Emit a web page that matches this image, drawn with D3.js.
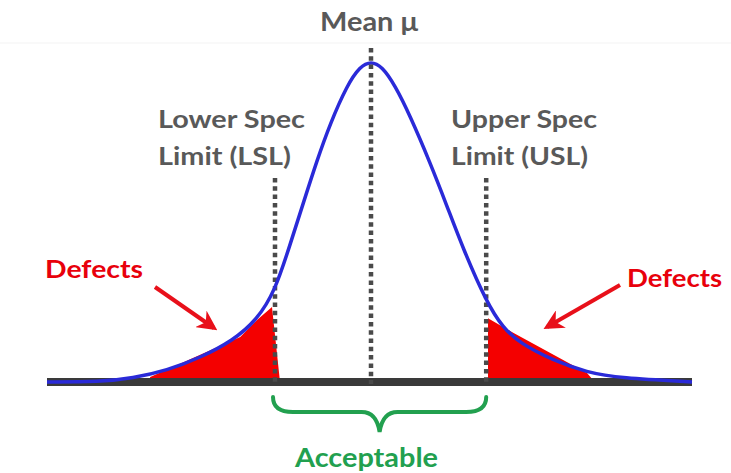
<!DOCTYPE html>
<html><head><meta charset="utf-8">
<script src="https://cdn.jsdelivr.net/npm/d3@7"></script>
<style>html,body{margin:0;padding:0;background:#fff;overflow:hidden}</style>
</head><body>
<svg id="c" width="731" height="473"></svg>
<script>
// Process values in sigma units (mean = 0), relative density (peak = 1)
const meanValue = 0;
const lslValue = -1.6;
const uslValue = 1.92;
const curveX = [-5.4,-4.52,-3.97,-3.4,-2.85,-2.3,-1.9,-1.6,-1.35,-1.13,-0.9,-0.68,-0.4,-0.18,0,0.18,0.4,0.65,0.98,1.27,1.53,1.93,2.2,2.48,3.03,3.6,4.15,5.35];
const curveY = [0,0,0.012,0.036,0.076,0.13,0.195,0.285,0.43,0.56,0.695,0.81,0.93,0.99,1.005,0.99,0.93,0.835,0.69,0.55,0.42,0.248,0.17,0.122,0.068,0.03,0.012,0];
const leftDefectX = [-3.7,-3.68,-2.18,-1.9,-1.65,-1.52,-1.52];
const leftDefectY = [0,0.016,0.141,0.194,0.235,0.006,0];
const rightDefectX = [1.95,1.95,2.37,3.6,3.73];
const rightDefectY = [0,0.2,0.154,0.028,0];
const labels = {mean:"Mean μ", lsl:["Lower Spec","Limit (LSL)"], usl:["Upper Spec","Limit (USL)"], defects:"Defects", ok:"Acceptable"};

const svg = d3.select("#c");
const x = d3.scaleLinear().domain([-5.4,5.35]).range([47,692]);
const y = d3.scaleLinear().domain([0,1]).range([382,63]);
const curve = curveX.map((v,i)=>[v,curveY[i]]);
const ld = leftDefectX.map((v,i)=>[v,leftDefectY[i]]);
const rd = rightDefectX.map((v,i)=>[v,rightDefectY[i]]);
const line = d3.line().x(d=>x(d[0])).y(d=>y(d[1]));

// faint rule near top
svg.append("line").attr("x1",0).attr("x2",731).attr("y1",43).attr("y2",43).attr("stroke","#f3f3f3").attr("stroke-width",1);

// defect areas
svg.append("path").attr("d",line(ld)+"Z").attr("fill","#f40000");
svg.append("path").attr("d",line(rd)+"Z").attr("fill","#f40000");

// baseline bar
svg.append("line").attr("x1",x(-5.4)).attr("x2",x(5.35)).attr("y1",y(0)).attr("y2",y(0))
  .attr("stroke","#3a3a3a").attr("stroke-width",8);

// spec lines
const dotted = (v,top)=>svg.append("line").attr("x1",x(v)).attr("x2",x(v)).attr("y1",top).attr("y2",y(0)+2)
  .attr("stroke","#4a4a4a").attr("stroke-width",4.5).attr("stroke-dasharray","4.5,3.8");
dotted(lslValue,178);
dotted(uslValue,178);

// curve
svg.append("path").attr("d",d3.line().x(d=>x(d[0])).y(d=>y(d[1])).curve(d3.curveBasis)(curve))
  .attr("fill","none").attr("stroke","#2a2ad8").attr("stroke-width",3.5);

dotted(meanValue,48);

// texts
const font = "Lato, 'Open Sans', sans-serif";
const txt = (s,xx,yy,len,col,size)=>svg.append("text").attr("x",xx).attr("y",yy).text(s)
  .attr("font-family",font).attr("font-weight","bold").attr("font-size",size).attr("fill",col)
  .attr("textLength",len).attr("lengthAdjust","spacingAndGlyphs");
const gray = "#595959";
txt(labels.mean,320,31,98,gray,26);
txt(labels.lsl[0],158,128,147,gray,25);
txt(labels.lsl[1],158,165,133,gray,25);
txt(labels.usl[0],451,128,146,gray,25);
txt(labels.usl[1],451,165,137,gray,25);
txt(labels.defects,45,278,98,"#e8000b",25);
txt(labels.defects,627,287,95,"#e8000b",25);
txt(labels.ok,295,467,143,"#22a04f",26);

// arrows
const defs = svg.append("defs");
defs.append("marker").attr("id","ah").attr("viewBox","0 0 10 10").attr("refX",8).attr("refY",5)
  .attr("markerWidth",5).attr("markerHeight",5).attr("orient","auto")
  .append("path").attr("d","M0,0 L10,5 L0,10 L3,5 Z").attr("fill","#e8101a");
svg.append("line").attr("x1",155).attr("y1",287).attr("x2",214).attr("y2",328)
  .attr("stroke","#e8101a").attr("stroke-width",4).attr("marker-end","url(#ah)");
svg.append("line").attr("x1",620).attr("y1",285).attr("x2",547).attr("y2",327)
  .attr("stroke","#e8101a").attr("stroke-width",4).attr("marker-end","url(#ah)");

// brace
const bx0 = x(lslValue)-2, bx1 = x(uslValue), bm = (bx0+bx1)/2, by0 = 397, by1 = 412, by2 = 432;
svg.append("path")
  .attr("d",`M${bx0},${by0} Q${bx0},${by1} ${bx0+20},${by1} L${bm-18},${by1} Q${bm-3},${by1} ${bm},${by2} Q${bm+3},${by1} ${bm+18},${by1} L${bx1-20},${by1} Q${bx1},${by1} ${bx1},${by0}`)
  .attr("fill","none").attr("stroke","#22a04f").attr("stroke-width",4).attr("stroke-linecap","round");
</script>
</body></html>
